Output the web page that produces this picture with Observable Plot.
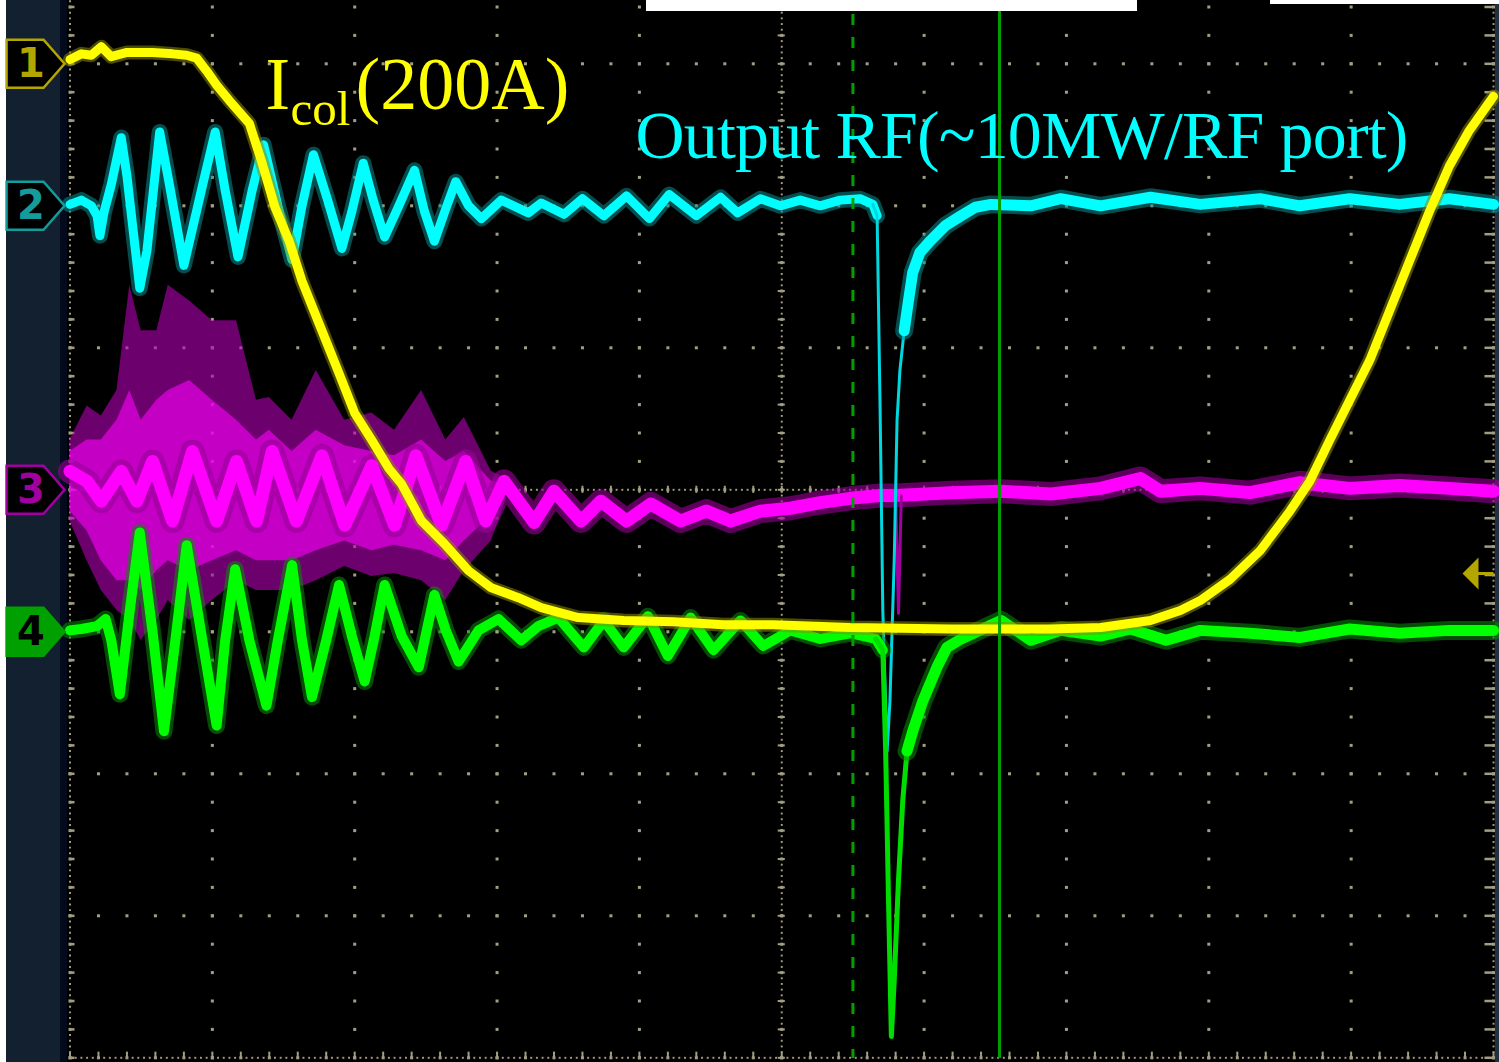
<!DOCTYPE html>
<html><head><meta charset="utf-8">
<script src="https://cdn.jsdelivr.net/npm/d3@7"></script>
<script src="https://cdn.jsdelivr.net/npm/@observablehq/plot@0.6"></script>
<style>
html,body{margin:0;padding:0;background:#fff;}
#wrap{position:relative;width:1499px;height:1062px;background:#000;overflow:hidden;}
.pan{position:absolute;top:0;height:1062px;}
#chart{position:absolute;left:0;top:0;}
</style></head><body>
<div id="wrap">
<div class="pan" style="left:0;width:6px;background:#ffffff"></div>
<div class="pan" style="left:6px;width:54px;background:#13202f"></div>
<div class="pan" style="left:60px;width:7px;background:#030a1c"></div>
<div class="pan" style="left:1495px;width:4px;background:#243040"></div>
<div id="chart"></div>
<div style="position:absolute;left:646px;top:0;width:491px;height:11px;background:#fff"></div>
<div style="position:absolute;left:1270px;top:0;width:229px;height:4px;background:#fff"></div>
</div>
<script>
// ---------- data (time and amplitude in screen divisions) ----------
const channelLabels = ["1", "2", "3", "4"];
const channelOffsets = [3, 2, 0, -1];
const cursorDashed = [5.50];
const cursorSolid = [6.53];
const triggerLevel = [-0.59];

const labelI = "I", labelSub = "col", labelTail = "(200A)";
const labelRF = "Output RF(~10MW/RF port)";

// CH1 yellow: collector current
const ch1T = [0,0.08,0.15,0.22,0.29,0.40,0.58,0.72,0.82,0.89,0.96,1.03,1.12,1.26,1.35,1.44,1.54,1.63,1.77,1.89,2.00,2.12,2.24,2.33,2.47,2.63,2.80,2.96,3.15,3.31,3.57,3.89,4.24,4.59,4.94,5.48,6.19,6.89,7.24,7.59,7.80,7.94,8.15,8.36,8.57,8.71,8.85,8.99,9.13,9.27,9.41,9.55,9.69,9.83,10.0];
const ch1V = [0.03,0.07,0.06,0.12,0.05,0.08,0.08,0.07,0.06,0.04,-0.05,-0.15,-0.26,-0.42,-0.70,-1.01,-1.25,-1.53,-1.88,-2.18,-2.46,-2.65,-2.85,-2.96,-3.22,-3.38,-3.57,-3.69,-3.76,-3.83,-3.90,-3.92,-3.93,-3.95,-3.95,-3.97,-3.98,-3.98,-3.97,-3.92,-3.85,-3.78,-3.63,-3.43,-3.15,-2.94,-2.65,-2.37,-2.09,-1.74,-1.39,-1.04,-0.72,-0.47,-0.23];

// CH2 cyan: output RF
const ch2T = [0,0.08,0.15,0.19,0.21,0.24,0.29,0.36,0.40,0.49,0.54,0.63,0.70,0.80,0.93,1.02,1.09,1.18,1.28,1.36,1.46,1.56,1.63,1.71,1.81,1.91,1.98,2.06,2.13,2.21,2.31,2.42,2.49,2.56,2.64,2.71,2.80,2.89,3.03,3.22,3.31,3.47,3.60,3.75,3.91,4.07,4.21,4.40,4.57,4.69,4.85,4.99,5.13,5.27,5.41,5.55,5.64,5.67];
const ch2V = [0.01,0.04,0,-0.07,-0.21,-0.04,0.15,0.48,0.21,-0.58,-0.32,0.52,0.14,-0.42,0.14,0.52,0.11,-0.36,0.11,0.43,0,-0.38,0,0.36,0.04,-0.30,-0.04,0.30,0.04,-0.22,0,0.25,-0.04,-0.25,-0.02,0.17,0,-0.09,0.04,-0.05,0.02,-0.06,0.05,-0.07,0.07,-0.09,0.08,-0.07,0.06,-0.05,0.05,0,0.04,0,0.04,0.05,0.01,-0.07];
const ch2DipT = [5.64,5.67,5.69,5.71,5.74,5.76,5.79,5.81,5.83,5.86,5.89];
const ch2DipV = [0.01,-0.07,-1.37,-2.85,-3.84,-3.49,-2.50,-1.51,-1.16,-0.88,-0.67];
const ch2PostT = [5.86,5.89,5.92,5.97,6.04,6.15,6.26,6.36,6.47,6.75,6.96,7.24,7.59,7.94,8.36,8.64,8.99,9.34,9.69,10.0];
const ch2PostV = [-0.88,-0.67,-0.47,-0.33,-0.25,-0.14,-0.07,-0.01,0.01,0,0.05,0,0.06,0.01,0.05,0,0.05,0.01,0.05,0.01];

// CH3 magenta
const ch3T = [0,0.12,0.22,0.36,0.47,0.58,0.72,0.86,1.03,1.17,1.31,1.42,1.59,1.77,1.93,2.12,2.28,2.43,2.61,2.78,2.92,3.05,3.26,3.40,3.59,3.73,3.91,4.08,4.29,4.47,4.64,4.85,5.06,5.27,5.48,5.69,5.80,6.19,6.54,6.89,7.24,7.52,7.66,7.94,8.29,8.64,8.99,9.34,9.69,10.0];
const ch3V = [0.13,0.06,-0.08,0.13,-0.08,0.20,-0.22,0.27,-0.22,0.20,-0.22,0.27,-0.22,0.24,-0.25,0.17,-0.25,0.24,-0.25,0.20,-0.22,0.06,-0.23,-0.01,-0.22,-0.08,-0.22,-0.10,-0.22,-0.15,-0.22,-0.15,-0.13,-0.09,-0.06,-0.04,-0.04,-0.02,-0.01,-0.03,0.01,0.08,-0.01,0.01,-0.02,0.05,0.01,0.03,0.01,-0.01];
const ch3SpikeT = [5.80,5.82,5.84];
const ch3SpikeV = [-0.04,-0.87,-0.04];
// noisy envelope of CH3 during the oscillation
const ch3BandT = [0,0.12,0.22,0.33,0.42,0.50,0.61,0.69,0.84,1.00,1.17,1.31,1.40,1.56,1.73,1.93,2.12,2.28,2.47,2.64,2.77,2.96,3.06];
const ch3OuterHi = [0.35,0.59,0.52,0.70,1.44,1.12,1.12,1.44,1.33,1.19,1.19,0.63,0.65,0.49,0.84,0.49,0.54,0.42,0.70,0.35,0.51,0.13,0.08];
const ch3OuterLo = [-0.22,-0.50,-0.71,-0.85,-0.92,-1.06,-0.92,-0.78,-0.92,-0.78,-0.64,-0.71,-0.71,-0.71,-0.64,-0.54,-0.61,-0.59,-0.64,-0.78,-0.57,-0.36,-0.08];
const ch3InnerHi = [0.27,0.35,0.35,0.49,0.70,0.49,0.63,0.70,0.77,0.63,0.49,0.35,0.42,0.27,0.42,0.31,0.27,0.24,0.35,0.20,0.27,0.06,0.05];
const ch3InnerLo = [-0.15,-0.29,-0.50,-0.64,-0.64,-0.71,-0.57,-0.50,-0.57,-0.50,-0.43,-0.50,-0.50,-0.50,-0.43,-0.36,-0.43,-0.39,-0.43,-0.50,-0.36,-0.18,-0.06];

// CH4 green
const ch4T = [0,0.08,0.19,0.25,0.29,0.35,0.42,0.49,0.58,0.66,0.74,0.82,0.93,1.03,1.09,1.16,1.26,1.38,1.46,1.56,1.63,1.70,1.80,1.89,1.98,2.07,2.14,2.21,2.33,2.45,2.56,2.64,2.73,2.87,3.01,3.17,3.29,3.43,3.61,3.75,3.89,4.06,4.20,4.36,4.52,4.71,4.87,5.06,5.27,5.48,5.66,5.71];
const ch4V = [0.01,0.02,0.04,0.09,-0.06,-0.44,0.15,0.70,0,-0.70,-0.06,0.61,-0.06,-0.66,-0.06,0.44,-0.06,-0.52,-0.06,0.47,-0.06,-0.46,-0.06,0.33,-0.03,-0.35,-0.03,0.33,-0.03,-0.25,0.26,0.01,-0.21,0.01,0.09,-0.06,0.04,0.10,-0.11,0.08,-0.11,0.11,-0.17,0.10,-0.13,0.08,-0.10,0.01,-0.05,-0.01,-0.05,-0.13];
const ch4DipT = [5.66,5.71,5.73,5.75,5.77,5.79,5.82,5.85,5.88,5.92];
const ch4DipV = [-0.05,-0.13,-0.84,-1.89,-2.85,-2.46,-1.75,-1.19,-0.84,-0.70];
const ch4PostT = [5.88,5.92,5.99,6.09,6.16,6.26,6.54,6.75,6.96,7.24,7.45,7.70,7.94,8.29,8.64,8.99,9.34,9.69,10.0];
const ch4PostV = [-0.84,-0.70,-0.49,-0.25,-0.11,-0.05,0.08,-0.06,0.01,-0.03,0.02,-0.06,0.01,-0.01,-0.04,0.02,-0.01,0.01,0.01];

// ---------- styles ----------
const GRID = "#a29e82";
const markerStyle = {
  "1": {stroke: "#b4a600", fill: "#000000", text: "#b4a600"},
  "2": {stroke: "#149c9c", fill: "#000000", text: "#149c9c"},
  "3": {stroke: "#a000a0", fill: "#000000", text: "#a000a0"},
  "4": {stroke: "#00a000", fill: "#00a000", text: "#000000"}
};

// ---------- helpers ----------
const pts = (T, V, off) => T.map((t, i) => ({t, v: off + V[i]}));
const band = (T, H, Lo, off) => T.map((t, i) => ({t, hi: off + H[i], lo: off + Lo[i]}));

// graticule construction
const minorX = d3.range(0, 50.5).map(i => i * 0.2);
const minorY = d3.range(0, 40.5).map(i => -4 + i * 0.2);
const fineX = d3.range(0, 250.5).map(i => i * 0.04);
const fineY = d3.range(0, 200.5).map(i => -4 + i * 0.04);
const majorX = d3.range(0, 11);
const majorY = d3.range(-4, 5);
const gridDots = [];
for (const y of majorY) for (const x of minorX) gridDots.push({x, y});
for (const x of majorX) for (const y of minorY) gridDots.push({x, y});
const axisDots = [];
for (const y of [0, -4]) for (const x of fineX) axisDots.push({x, y});
for (const x of [0, 5, 10]) for (const y of fineY) axisDots.push({x, y});

const pentagon = {draw(ctx) {
  ctx.moveTo(-29, -24); ctx.lineTo(8, -24); ctx.lineTo(29, 0);
  ctx.lineTo(8, 24); ctx.lineTo(-29, 24); ctx.closePath();
}};
const trigArrow = {draw(ctx) {
  ctx.moveTo(-31, 0); ctx.lineTo(-15, -16); ctx.lineTo(-15, 16); ctx.closePath();
  ctx.moveTo(-15, -1.5); ctx.lineTo(0, -1.5); ctx.lineTo(0, 1.5); ctx.lineTo(-15, 1.5); ctx.closePath();
}};

const markers = channelLabels.map((label, i) => ({label, level: channelOffsets[i]}));

const ch1 = pts(ch1T, ch1V, channelOffsets[0]);
const ch2 = pts(ch2T, ch2V, channelOffsets[1]);
const ch2Dip = pts(ch2DipT, ch2DipV, channelOffsets[1]);
const ch2Post = pts(ch2PostT, ch2PostV, channelOffsets[1]);
const ch3 = pts(ch3T, ch3V, channelOffsets[2]);
const ch3Spike = pts(ch3SpikeT, ch3SpikeV, channelOffsets[2]);
const ch3Outer = band(ch3BandT, ch3OuterHi, ch3OuterLo, channelOffsets[2]);
const ch3Inner = band(ch3BandT, ch3InnerHi, ch3InnerLo, channelOffsets[2]);
const ch4 = pts(ch4T, ch4V, channelOffsets[3]);
const ch4Dip = pts(ch4DipT, ch4DipV, channelOffsets[3]);
const ch4Post = pts(ch4PostT, ch4PostV, channelOffsets[3]);

const L = (data, stroke, w, extra = {}) => Plot.line(data, {x: "t", y: "v", stroke, strokeWidth: w,
  strokeLinejoin: "round", strokeLinecap: "round", ...extra});

const plot = Plot.plot({
  width: 1499, height: 1062,
  marginLeft: 69.5, marginRight: 6, marginTop: 0, marginBottom: 4,
  x: {domain: [0, 10], axis: null},
  y: {domain: [-4, 4], range: [1057.3, -78.7], axis: null},
  color: {type: "identity"},
  style: {background: "transparent", overflow: "visible"},
  marks: [
    // graticule
    Plot.dot(gridDots, {x: "x", y: "y", symbol: "square", r: 1.7, fill: GRID}),
    Plot.dot(axisDots, {x: "x", y: "y", symbol: "square", r: 1.1, fill: GRID}),
    Plot.ruleX(minorX, {y1: -0.025, y2: 0.025, stroke: GRID, strokeWidth: 2}),
    Plot.ruleX(minorX, {y1: -4, y2: -3.96, stroke: GRID, strokeWidth: 2}),
    Plot.ruleY(minorY, {x1: 4.975, x2: 5.025, stroke: GRID, strokeWidth: 2}),
    Plot.ruleY(minorY, {x1: 0, x2: 0.035, stroke: GRID, strokeWidth: 2.5}),
    Plot.ruleY(minorY, {x1: 9.94, x2: 10, stroke: GRID, strokeWidth: 2.5}),
    // CH3 magenta
    Plot.areaY(ch3Outer, {x: "t", y1: "lo", y2: "hi", fill: "#b400b4", fillOpacity: 0.6}),
    Plot.areaY(ch3Inner, {x: "t", y1: "lo", y2: "hi", fill: "#ff00ff", fillOpacity: 0.6}),
    L(ch3, "#9a009a", 24, {strokeOpacity: 0.6}),
    L(ch3, "#ff00ff", 13),
    L(ch3Spike, "#a000a0", 3),
    // CH2 cyan
    L(ch2, "#0a8c8c", 16, {strokeOpacity: 0.55}),
    L(ch2, "#00ffff", 9),
    L(ch2Dip, "#00d8e0", 3),
    L(ch2Post, "#0a8c8c", 18, {strokeOpacity: 0.55}),
    L(ch2Post, "#00ffff", 11),
    // CH4 green
    L(ch4, "#0a8a0a", 17, {strokeOpacity: 0.55}),
    L(ch4, "#00ff00", 10),
    L(ch4Dip, "#00dd00", 5),
    L(ch4Post, "#0a8a0a", 19, {strokeOpacity: 0.55}),
    L(ch4Post, "#00ff00", 11),
    // CH1 yellow
    L(ch1, "#8a8a00", 14, {strokeOpacity: 0.55}),
    L(ch1, "#ffff00", 9),
    // cursors
    Plot.ruleX(cursorDashed, {stroke: "#00a000", strokeWidth: 3, strokeDasharray: "11,12", strokeDashoffset: 9}),
    Plot.ruleX(cursorSolid, {stroke: "#00a000", strokeWidth: 3}),
    // channel markers
    Plot.dot(markers, {x: () => -0.242, y: "level", symbol: pentagon, r: 10,
      fill: d => markerStyle[d.label].fill, stroke: d => markerStyle[d.label].stroke, strokeWidth: 2.5}),
    Plot.text(markers, {x: () => -0.275, y: "level", text: "label", fill: d => markerStyle[d.label].text,
      fontFamily: "DejaVu Sans", fontWeight: "bold", fontSize: 40}),
    // trigger level arrow
    Plot.dot(triggerLevel, {x: () => 10, y: d => d, symbol: trigArrow, r: 10, fill: "#b4a600", stroke: "none"}),
    // annotations
    Plot.text([labelI], {x: () => 1.373, y: () => 2.685, text: d => d, fill: "#ffff00", fontFamily: "Liberation Serif", fontSize: 74, textAnchor: "start", lineAnchor: "bottom"}),
    Plot.text([labelSub], {x: () => 1.549, y: () => 2.566, text: d => d, fill: "#ffff00", fontFamily: "Liberation Serif", fontSize: 49, textAnchor: "start", lineAnchor: "bottom"}),
    Plot.text([labelTail], {x: () => 2.006, y: () => 2.685, text: d => d, fill: "#ffff00", fontFamily: "Liberation Serif", fontSize: 74, textAnchor: "start", lineAnchor: "bottom"}),
    Plot.text([labelRF], {x: () => 3.973, y: () => 2.340, text: d => d, fill: "#00ffff", fontFamily: "Liberation Serif", fontSize: 68, textAnchor: "start", lineAnchor: "bottom"})
  ]
});

// fine-tune annotation width to the reference
d3.select(plot).selectAll("text").each(function() {
  if (this.textContent === labelRF) this.setAttribute("letter-spacing", "-0.85");
});

document.getElementById("chart").appendChild(plot);
</script>
</body></html>
